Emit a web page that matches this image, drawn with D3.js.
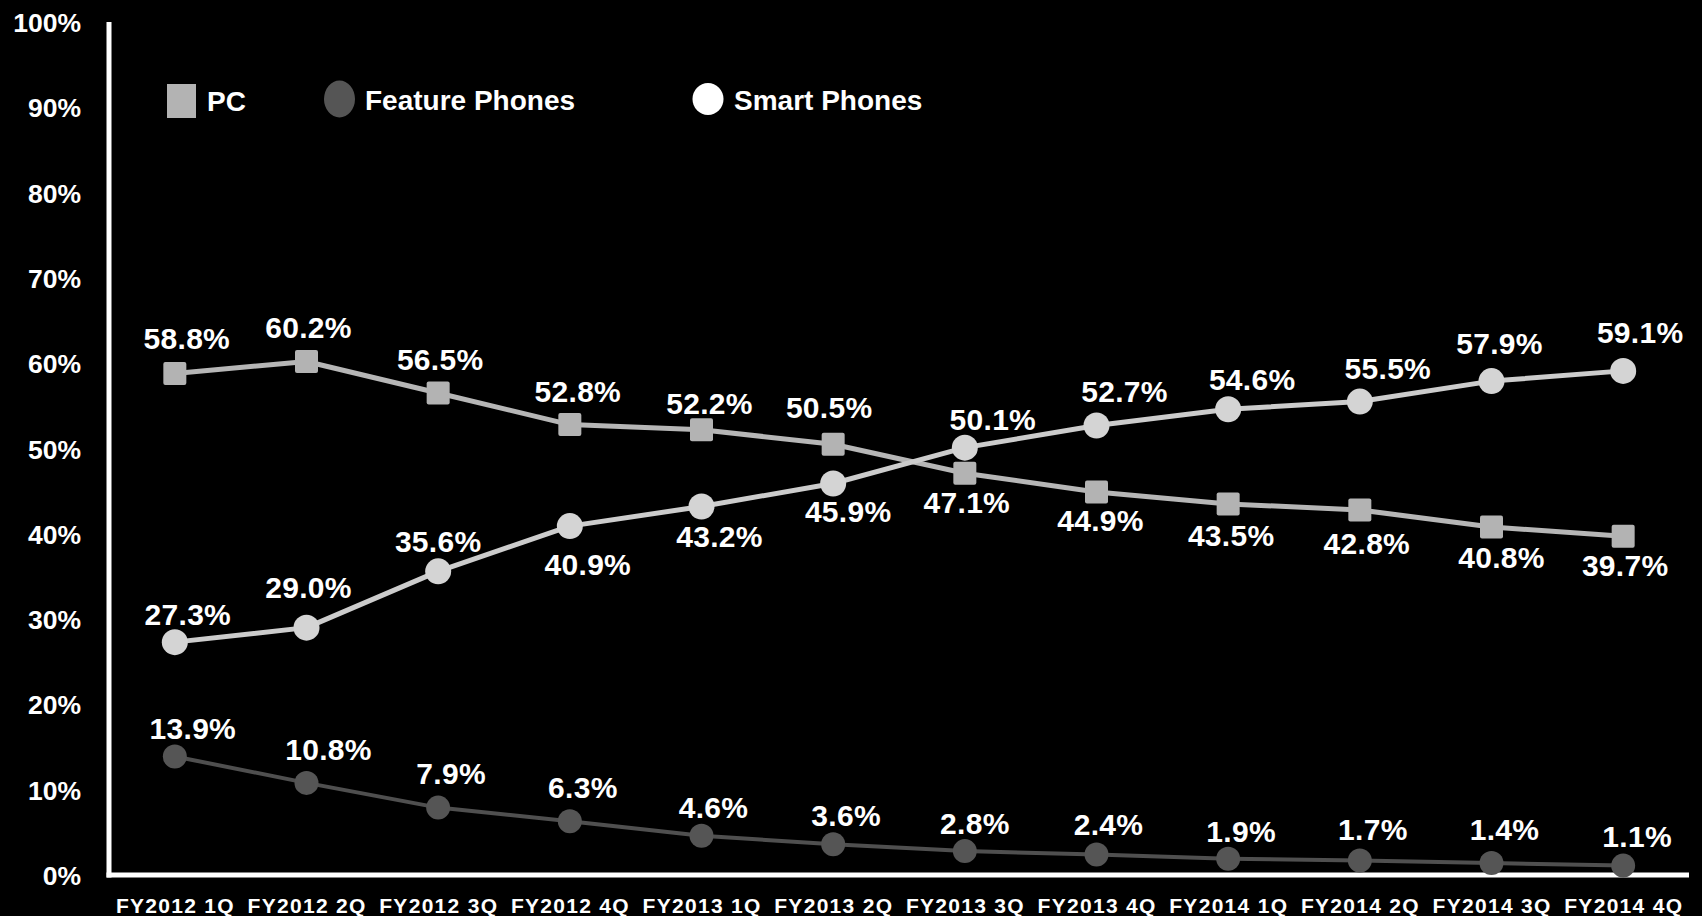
<!DOCTYPE html>
<html>
<head>
<meta charset="utf-8">
<script src="https://cdn.jsdelivr.net/npm/d3@7/dist/d3.min.js"></script>
<style>
  html, body { margin: 0; padding: 0; background: #000; }
  svg { display: block; }
  text { font-family: "Liberation Sans", Arial, Helvetica, sans-serif; font-weight: bold; fill: #fff; }
</style>
</head>
<body>
<svg id="chart" width="1702" height="916"></svg>
<script>
// Quarterly share by device type (%)
const quarters = [
  "FY2012 1Q", "FY2012 2Q", "FY2012 3Q", "FY2012 4Q",
  "FY2013 1Q", "FY2013 2Q", "FY2013 3Q", "FY2013 4Q",
  "FY2014 1Q", "FY2014 2Q", "FY2014 3Q", "FY2014 4Q"
];
const pcShare      = [58.8, 60.2, 56.5, 52.8, 52.2, 50.5, 47.1, 44.9, 43.5, 42.8, 40.8, 39.7];
const featureShare = [13.9, 10.8, 7.9, 6.3, 4.6, 3.6, 2.8, 2.4, 1.9, 1.7, 1.4, 1.1];
const smartShare   = [27.3, 29.0, 35.6, 40.9, 43.2, 45.9, 50.1, 52.7, 54.6, 55.5, 57.9, 59.1];
const yTicks = [0, 10, 20, 30, 40, 50, 60, 70, 80, 90, 100];

// Value label placement relative to each marker, [dx, dy] in px
const pcLabelOffset = [[12,-35],[2,-34],[2,-34],[8,-33],[8,-27],[-4,-37],[2,29],[4,28],[3,31],[7,33],[10,30],[2,29]];
const smartLabelOffset = [[13,-28],[2,-40],[0,-30],[18,38],[18,30],[15,28],[28,-28],[28,-34],[24,-30],[28,-33],[8,-38],[17,-39]];
const featureLabelOffset = [[18,-28],[22,-34],[13,-34],[13,-34],[12,-29],[13,-29],[10,-28],[12,-30],[13,-28],[13,-31],[13,-34],[14,-29]];

const svg = d3.select("#chart");

const axisLeftX = 109, axisRightX = 1689;
const y0 = 875, y100 = 22;

const x = d3.scaleBand().domain(quarters).range([axisLeftX, axisRightX]);
const cx = q => x(q) + x.bandwidth() / 2;
const y = d3.scaleLinear().domain([0, 100]).range([y0, y100]);

// Y tick labels
const yAxis = d3.axisLeft(y).tickValues(yTicks).tickSize(0).tickPadding(0).tickFormat(d => d + "%");
const yg = svg.append("g").attr("transform", "translate(81,0)").call(yAxis);
yg.select(".domain").remove();
yg.selectAll("text")
  .attr("x", 0)
  .attr("dy", "0.36em")
  .style("font-size", "26.5px")
  .style("font-family", "'Liberation Sans', Arial, sans-serif")
  .style("font-weight", "bold")
  .attr("fill", "#fff");

// X tick labels
const xAxis = d3.axisBottom(x).tickSize(0).tickPadding(0);
const xg = svg.append("g").call(xAxis);
xg.select(".domain").remove();
xg.selectAll("text")
  .attr("y", 913)
  .attr("dy", 0)
  .attr("dx", "0.6px")
  .style("font-size", "21px")
  .style("letter-spacing", "1.3px")
  .style("font-family", "'Liberation Sans', Arial, sans-serif")
  .style("font-weight", "bold")
  .attr("fill", "#fff");

// Axis lines
svg.append("line")
  .attr("x1", axisLeftX).attr("x2", axisLeftX)
  .attr("y1", y100).attr("y2", y0 + 2.5)
  .attr("stroke", "#fff").attr("stroke-width", 5);
svg.append("line")
  .attr("x1", axisLeftX - 2.5).attr("x2", axisRightX)
  .attr("y1", y0).attr("y2", y0)
  .attr("stroke", "#fff").attr("stroke-width", 5);

const line = d3.line().x((d, i) => cx(quarters[i])).y(d => y(d));

const series = [
  { name: "PC", values: pcShare, offsets: pcLabelOffset, line: "#b6b6b6", fill: "#b3b3b3", width: 5, marker: "square", size: 23 },
  { name: "Feature Phones", values: featureShare, offsets: featureLabelOffset, line: "#4f4f4f", fill: "#555555", width: 4, marker: "circle", size: 24 },
  { name: "Smart Phones", values: smartShare, offsets: smartLabelOffset, line: "#cccccc", fill: "#d4d4d4", width: 5, marker: "circle", size: 26 }
];

series.forEach(s => {
  svg.append("path")
    .datum(s.values)
    .attr("d", line)
    .attr("fill", "none")
    .attr("stroke", s.line)
    .attr("stroke-width", s.width)
    .attr("stroke-linejoin", "round");
});

series.forEach(s => {
  const g = svg.append("g");
  if (s.marker === "square") {
    g.selectAll("rect").data(s.values).join("rect")
      .attr("x", (d, i) => cx(quarters[i]) - s.size / 2)
      .attr("y", d => y(d) - s.size / 2)
      .attr("width", s.size).attr("height", s.size)
      .attr("rx", 2)
      .attr("fill", s.fill);
  } else {
    g.selectAll("circle").data(s.values).join("circle")
      .attr("cx", (d, i) => cx(quarters[i]))
      .attr("cy", d => y(d))
      .attr("r", s.size / 2)
      .attr("fill", s.fill);
  }
});

// Value labels
series.forEach(s => {
  svg.append("g").selectAll("text").data(s.values).join("text")
    .attr("x", (d, i) => cx(quarters[i]) + s.offsets[i][0])
    .attr("y", (d, i) => y(d) + s.offsets[i][1])
    .attr("dy", "0.36em")
    .attr("text-anchor", "middle")
    .style("font-size", "30px")
    .style("letter-spacing", "0.3px")
    .text(d => d.toFixed(1) + "%");
});

// Legend
const legend = svg.append("g");
legend.append("rect").attr("x", 167).attr("y", 84).attr("width", 29).attr("height", 34).attr("fill", "#b3b3b3");
legend.append("text").attr("x", 207).attr("y", 101).attr("dy", "0.36em").style("font-size", "28px").text("PC");
legend.append("ellipse").attr("cx", 339.5).attr("cy", 99).attr("rx", 15.5).attr("ry", 18.5).attr("fill", "#555555");
legend.append("text").attr("x", 365).attr("y", 100).attr("dy", "0.36em").style("font-size", "28px").text("Feature Phones");
legend.append("ellipse").attr("cx", 708).attr("cy", 99).attr("rx", 15.5).attr("ry", 16).attr("fill", "#ffffff");
legend.append("text").attr("x", 734).attr("y", 100).attr("dy", "0.36em").style("font-size", "28px").text("Smart Phones");
</script>
</body>
</html>
